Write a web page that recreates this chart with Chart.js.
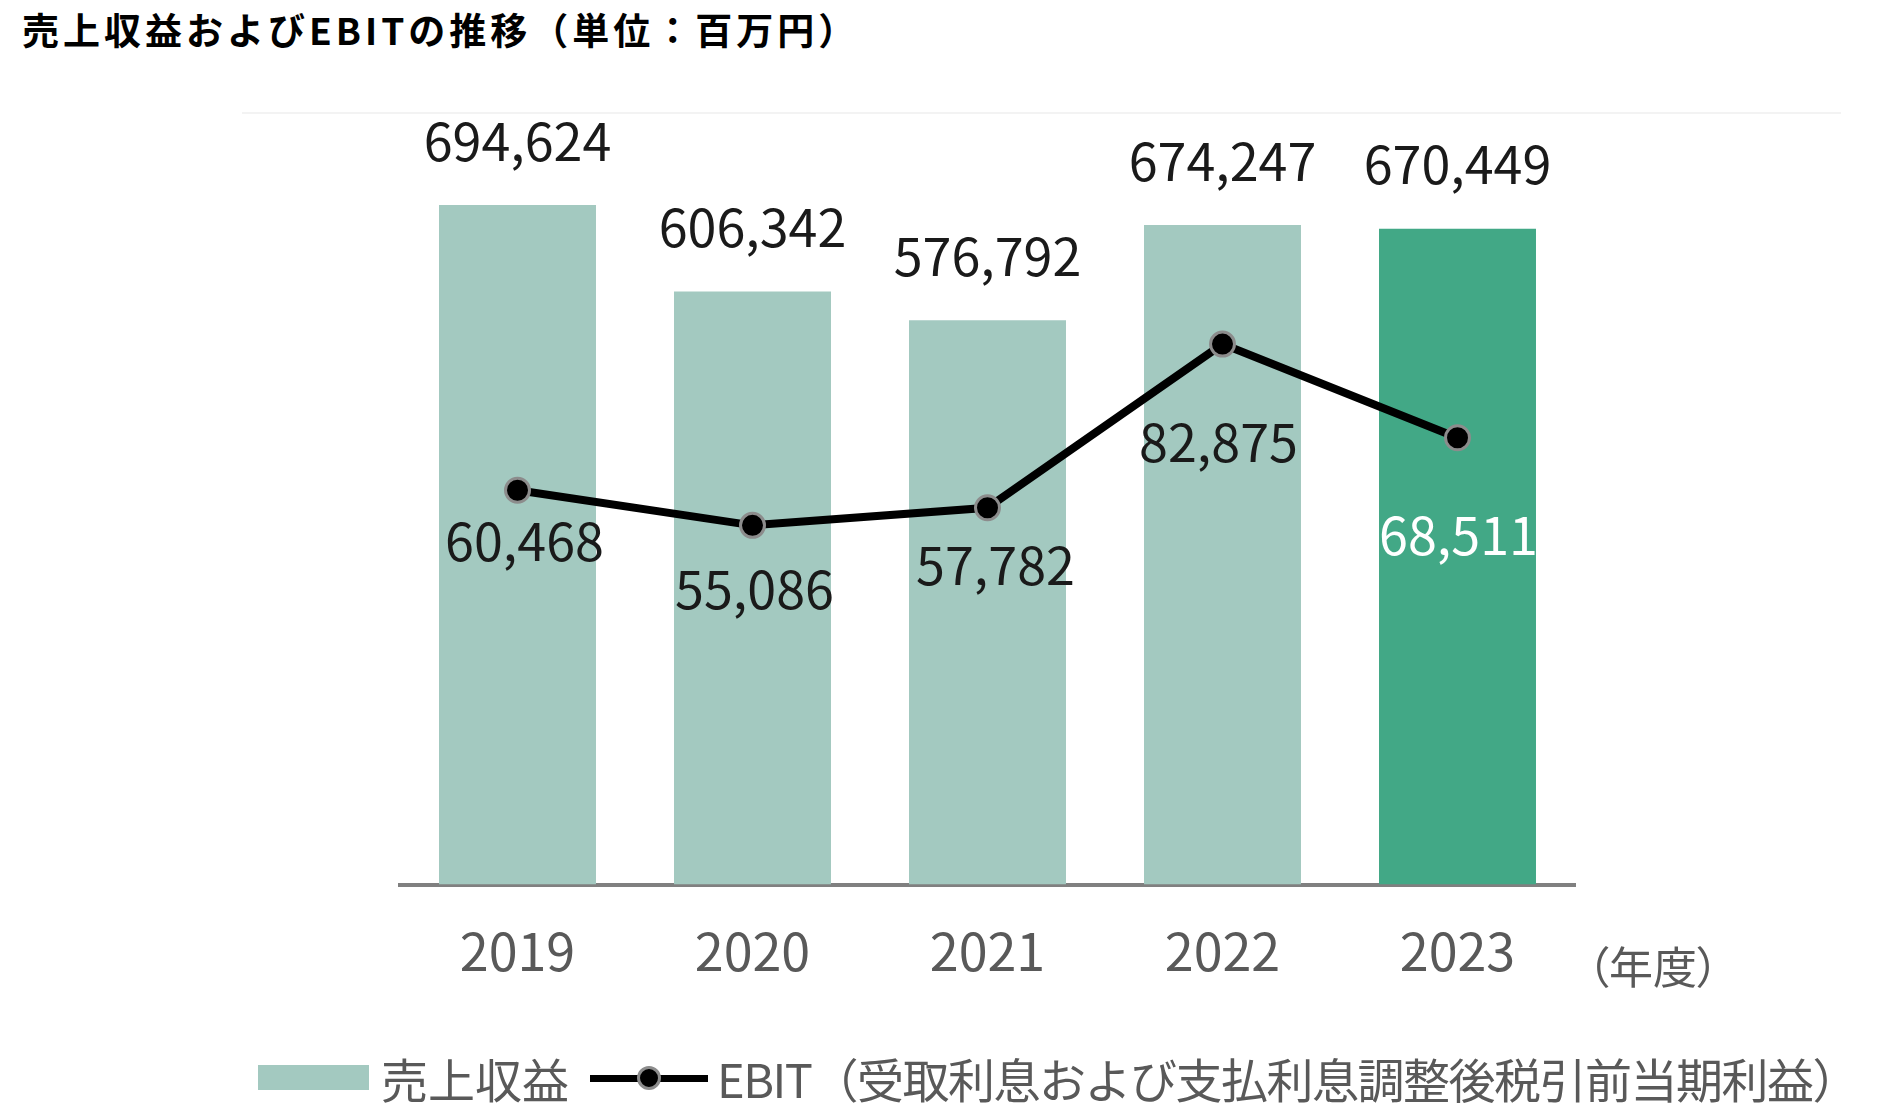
<!DOCTYPE html>
<html lang="ja">
<head>
<meta charset="utf-8">
<title>売上収益およびEBITの推移</title>
<script src="https://cdn.jsdelivr.net/npm/chart.js@4.4.1/dist/chart.umd.min.js"></script>
<style>
  html, body { margin: 0; padding: 0; background: #fff; }
  body {
    width: 1899px; height: 1115px; position: relative; overflow: hidden;
    font-family: "Noto Sans CJK JP", "Noto Sans", sans-serif;
  }
  #title {
    position: absolute; left: 22px; top: 11px; line-height: 1;
    font-size: 37px; font-weight: 700; color: #000; letter-spacing: 4px;
  }
  #topRule { position: absolute; left: 242px; top: 112px; width: 1599px; height: 2px; background: #f3f3f3; }
  #chart { position: absolute; left: 0; top: 0; }
  #unit {
    position: absolute; left: 1587px; top: 943px; line-height: 1; font-size: 44px; color: #595959;
    font-feature-settings: "palt";
  }
  #legend {
    position: absolute; left: 258px; top: 1054px; height: 47px;
    display: flex; align-items: center; font-size: 47px; line-height: 1; color: #595959;
  }
  #legend .long { letter-spacing: -1.5px; }
  .box { width: 111px; height: 25px; background: #a3c9c0; margin-right: 12px; }
  .mark { position: relative; width: 118px; height: 26px; margin: 0 9px 0 21px; }
  .mark::before { content: ""; position: absolute; left: 0; right: 0; top: 10px; height: 7px; background: #000; }
  .mark::after {
    content: ""; position: absolute; left: 47px; top: 1px; width: 18px; height: 18px;
    border-radius: 50%; background: #000; border: 3px solid #8c8c8c;
  }
</style>
</head>
<body>
<div id="title">売上収益およびEBITの推移（単位：百万円）</div>
<div id="topRule"></div>
<canvas id="chart" width="1899" height="1115"></canvas>
<div id="unit">（年度）</div>
<div id="legend">
  <div class="box"></div><span>売上収益</span>
  <div class="mark"></div><span class="long">EBIT（受取利息および支払利息調整後税引前当期利益）</span>
</div>
<script>
const years = ["2019", "2020", "2021", "2022", "2023"];
const revenue = [694624, 606342, 576792, 674247, 670449];
const ebit = [60468, 55086, 57782, 82875, 68511];
const highlightYear = "2023";

const FONT = '"Noto Sans CJK JP", "Noto Sans", sans-serif';
const LIGHT = "#a3c9c0";
const DARK = "#42a886";

const barColors = years.map((y) => (y === highlightYear ? DARK : LIGHT));

const ctx = document.getElementById("chart").getContext("2d");

const chart = new Chart(ctx, {
  data: {
    labels: years,
    datasets: [
      {
        type: "line",
        label: "EBIT（受取利息および支払利息調整後税引前当期利益）",
        data: ebit,
        yAxisID: "y1",
        order: 0,
        borderColor: "#000",
        borderWidth: 8,
        tension: 0,
        pointRadius: 12,
        pointBackgroundColor: "#000",
        pointBorderColor: "#8c8c8c",
        pointBorderWidth: 3,
        clip: false,
      },
      {
        type: "bar",
        label: "売上収益",
        data: revenue,
        yAxisID: "y",
        order: 1,
        backgroundColor: barColors,
        categoryPercentage: 1,
        barPercentage: 0.668,
      },
    ],
  },
  options: {
    responsive: false,
    animation: false,
    layout: { padding: { left: 400, right: 324, top: 102, bottom: 98 } },
    plugins: {
      legend: { display: false },
      tooltip: { enabled: false },
    },
    scales: {
      x: {
        grid: { display: false, drawTicks: false },
        border: { display: true, color: "#808080", width: 4 },
        ticks: {
          padding: 35,
          color: "#595959",
          font: { family: FONT, size: 52, lineHeight: 1.2 },
        },
      },
      y: { display: false, min: 0, max: 800000 },
      y1: { display: false, min: 0, max: 120000 },
    },
  },
  plugins: [
    {
      id: "valueLabels",
      afterDatasetsDraw(chart) {
        const { ctx } = chart;
        const fmt = (v) => v.toLocaleString("en-US");
        ctx.save();
        ctx.font = "52px " + FONT;
        ctx.textAlign = "center";
        ctx.textBaseline = "middle";

        // revenue above each bar
        const barMeta = chart.getDatasetMeta(1);
        barMeta.data.forEach((bar, i) => {
          ctx.fillStyle = "#1a1a1a";
          ctx.fillText(fmt(revenue[i]), bar.x, bar.y - 64);
        });

        // EBIT below each point
        const dx = [7, 2, 8, -4, 1];
        const dy = [51, 64, 57, 98, 97];
        const lineMeta = chart.getDatasetMeta(0);
        lineMeta.data.forEach((pt, i) => {
          ctx.fillStyle = years[i] === highlightYear ? "#ffffff" : "#1a1a1a";
          ctx.fillText(fmt(ebit[i]), pt.x + dx[i], pt.y + dy[i]);
        });
        ctx.restore();
      },
    },
  ],
});
</script>
</body>
</html>
